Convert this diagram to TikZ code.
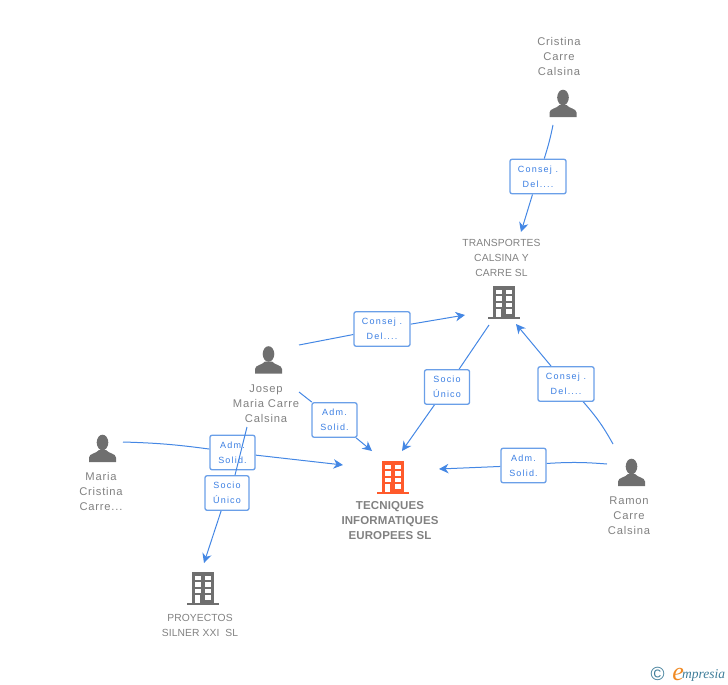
\documentclass[tikz,border=0pt]{standalone}
\usepackage{fontspec}
\setmainfont{Liberation Sans}
\newfontfamily\namefont[LetterSpace=7]{Liberation Sans}
\newfontfamily\firmfont[LetterSpace=1]{Liberation Sans}
\newfontfamily\tagfont[LetterSpace=13]{Liberation Sans}
\newfontfamily\logofont{Liberation Serif}
\usetikzlibrary{calc}
\usetikzlibrary{positioning}
\usetikzlibrary{arrows.meta}
\usetikzlibrary{backgrounds}
\definecolor{iconGrey}{HTML}{6F6F6F}
\definecolor{textGrey}{HTML}{818181}
\definecolor{linkBlue}{HTML}{4487E4}
\definecolor{boxBlue}{HTML}{6A9FE8}
\definecolor{tagBlue}{HTML}{3B7FE3}
\definecolor{mainOrange}{HTML}{FF5A2B}
\definecolor{logoBlue}{HTML}{3F7D99}
\definecolor{logoOrange}{HTML}{F08A24}
\tikzset{
	person/.pic={
		\fill[pic actions] (0,-19.5) ellipse (5.8 and 7.8);
		\fill[pic actions] (-13.5,0) -- (-13.5,-4.5) .. controls (-13.5,-8.5) and (-6,-8.5) .. (-3.5,-12) -- (3.5,-12) .. controls (6,-8.5) and (13.5,-8.5) .. (13.5,-4.5) -- (13.5,0) -- cycle;
	},
	building/.pic={
		\fill[pic actions] (-16,-2) rectangle (16,0);
		\fill[pic actions] (-11,-33.5) rectangle (11,-2);
		\foreach \wx in {-7.8, 2.3} {
			\foreach \wy in {-29.5, -23, -16.5} {
				\fill[white] (\wx,\wy) rectangle ++(5.5,4.8);
			}
		}
		\fill[white] (2.3,-10) rectangle ++(5.5,5.2);
		\fill[white] (-7.8,-10) rectangle (-3,-2);
	},
}

\begin{document}
\begin{tikzpicture}[x=1pt, y=-1pt, font=\namefont, text=textGrey]
    \tikzstyle{namelabel}=[align=center, font=\fontsize{11.2}{15}\namefont, inner sep=0pt]
    \tikzstyle{firmlabel}=[align=center, font=\fontsize{10.3}{15}\firmfont, inner sep=0pt]
    \tikzstyle{mainlabel}=[align=center, font=\fontsize{11.5}{15}\bfseries\firmfont, inner sep=0pt]
    \tikzstyle{tagbox}=[draw=boxBlue, rounded corners=2pt, line width=1.3pt, fill=white, text=tagBlue, align=center, font=\fontsize{9}{15}\tagfont, minimum width=45pt, minimum height=34.5pt, inner sep=0pt]
    \tikzstyle{widebox}=[tagbox, minimum width=56pt]
    \tikzstyle{linkline}=[draw=linkBlue, line width=1pt]
    \tikzstyle{linkarrow}=[linkline, -{Stealth[length=9.5pt, width=9.5pt, inset=3pt]}]

    \useasboundingbox (0,0) rectangle (728,685);

    % people and companies
    \pic[fill=iconGrey] at (563,117) {person};
    \pic[fill=iconGrey] at (268.5,373.5) {person};
    \pic[fill=iconGrey] at (102.5,462) {person};
    \pic[fill=iconGrey] at (631.5,486) {person};
    \pic[fill=iconGrey] at (504,319) {building};
    \pic[fill=iconGrey] at (203,605) {building};
    \pic[fill=mainOrange] at (393,494) {building};

    \node[namelabel] (cristina) at (559,56.5) {Cristina\\Carre\\Calsina};
    \node[firmlabel] (transportes) at (501.5,257.5) {TRANSPORTES\\CALSINA Y\\CARRE SL};
    \node[namelabel] (josep) at (266,403.5) {Josep\\Maria Carre\\Calsina};
    \node[namelabel] (maria) at (101,491.5) {Maria\\Cristina\\Carre...};
    \node[namelabel] (ramon) at (629,515.5) {Ramon\\Carre\\Calsina};
    \node[firmlabel] (silner) at (200,625) {PROYECTOS\\SILNER XXI\ \ SL};
    \node[mainlabel] (tecniques) at (390,521) {TECNIQUES\\INFORMATIQUES\\EUROPEES SL};

    % boxes on the links
    \node[widebox] (consejTop) at (538,176.5) {Consej .\\Del....};
    \node[widebox] (consejLeft) at (382,329) {Consej .\\Del....};
    \node[widebox] (consejRight) at (566,384) {Consej .\\Del....};
    \node[tagbox] (socioRight) at (447,387) {Socio\\Único};
    \node[tagbox] (admJosep) at (334.5,420) {Adm.\\Solid.};
    \node[tagbox] (admMaria) at (232.5,452.5) {Adm.\\Solid.};
    \node[tagbox] (admRamon) at (523.5,465.5) {Adm.\\Solid.};

    \coordinate (cristinaOut) at (553,125);
    \coordinate (transportesInTop) at (521,232);
    \coordinate (transportesInLeft) at (465,315);
    \coordinate (transportesInRight) at (516,324);
    \coordinate (transportesOut) at (489,325);
    \coordinate (josepOutTop) at (299,345);
    \coordinate (josepOutRight) at (299,392);
    \coordinate (josepOutDown) at (247,427);
    \coordinate (mariaOut) at (123,442);
    \coordinate (ramonOutTop) at (613,444);
    \coordinate (ramonOutLeft) at (607,464);
    \coordinate (mainInLeft) at (343,465);
    \coordinate (mainInJosep) at (372,451);
    \coordinate (mainInTop) at (402,451);
    \coordinate (mainInRight) at (439,469);
    \coordinate (silnerIn) at (204,563);

    \begin{scope}[on background layer]
        \draw[linkline] (cristinaOut) to[bend left=3] (consejTop);
        \draw[linkarrow] (consejTop) -- (transportesInTop);
        \draw[linkline] (josepOutTop) -- (consejLeft);
        \draw[linkarrow] (consejLeft) -- (transportesInLeft);
        \draw[linkline] (transportesOut) -- (socioRight);
        \draw[linkarrow] (socioRight) -- (mainInTop);
        \draw[linkline] (ramonOutTop) to[bend right=6] (consejRight);
        \draw[linkarrow] (consejRight) -- (transportesInRight);
        \draw[linkline] (ramonOutLeft) to[bend right=4] (admRamon);
        \draw[linkarrow] (admRamon) -- (mainInRight);
        \draw[linkline] (josepOutRight) -- (admJosep);
        \draw[linkarrow] (admJosep) -- (mainInJosep);
        \draw[linkline] (mariaOut) to[bend left=3] (admMaria);
        \draw[linkarrow] (admMaria) -- (mainInLeft);
    \end{scope}

    % this one runs over the box of Maria
    \node[tagbox, minimum width=44pt] (socioLeft) at (227,493) {Socio\\Único};
    \draw[linkline] (josepOutDown) -- ($(socioLeft.north)+(8,0)$);
    \begin{scope}[on background layer]
        \draw[linkarrow] (socioLeft) -- (silnerIn);
    \end{scope}

    % logo
    \node[text=logoBlue, font=\fontsize{19}{19}\selectfont, inner sep=0pt] (copyright) at (657.5,674) {©};
    \node[text=logoBlue, font=\fontsize{13.5}{13}\logofont\itshape, inner sep=0pt, anchor=base west] (logotext) at (682,678.5) {mpresia};
    \node[text=logoOrange, font=\fontsize{26}{26}\logofont\itshape, inner sep=0pt, anchor=base east] (logoe) at (684,680) {e};
\end{tikzpicture}
\end{document}
